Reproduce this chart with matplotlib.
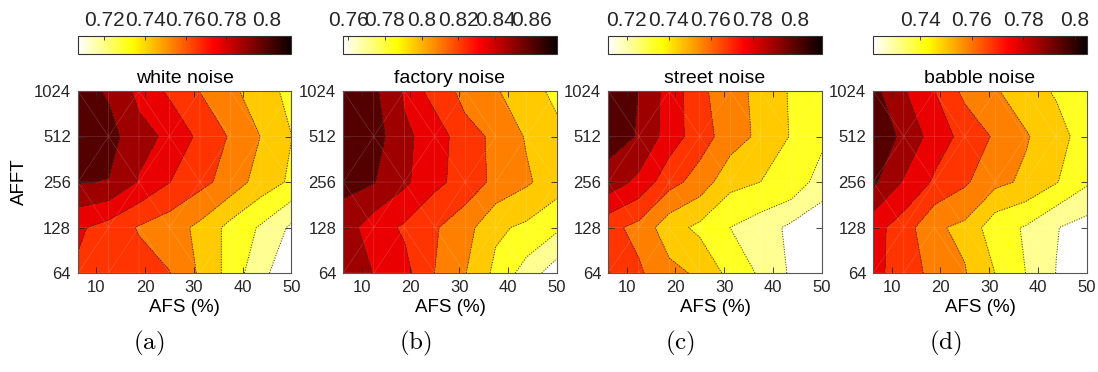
import numpy as np
import matplotlib
matplotlib.use("Agg")
import matplotlib.pyplot as plt
from matplotlib import cm, colors as mcolors
from matplotlib.tri import Triangulation

plt.rcParams['font.family'] = ['Liberation Sans', 'DejaVu Sans']
plt.rcParams['mathtext.fontset'] = 'cm'

# grid of the contour data
afs = [6.25, 12.5, 18.75, 25, 31.25, 37.5, 43.75, 50]
afft = [64, 128, 256, 512, 1024]

# accuracy per AFFT row (64 at the bottom up to 1024), columns follow afs
white = [
    [0.7753, 0.7723, 0.7700, 0.7657, 0.7520, 0.7377, 0.7217, 0.7109],
    [0.7788, 0.7725, 0.7643, 0.7589, 0.7510, 0.7382, 0.7289, 0.7166],
    [0.8009, 0.7999, 0.7877, 0.7772, 0.7688, 0.7606, 0.7484, 0.7401],
    [0.8073, 0.8050, 0.7924, 0.7865, 0.7742, 0.7642, 0.7534, 0.7422],
    [0.8062, 0.7986, 0.7855, 0.7748, 0.7651, 0.7560, 0.7482, 0.7379],
]
factory = [
    [0.8529, 0.8475, 0.8390, 0.8218, 0.8095, 0.7930, 0.7776, 0.7631],
    [0.8549, 0.8404, 0.8330, 0.8232, 0.8140, 0.7983, 0.7937, 0.7857],
    [0.8639, 0.8613, 0.8503, 0.8381, 0.8297, 0.8186, 0.8109, 0.8021],
    [0.8697, 0.8671, 0.8497, 0.8436, 0.8251, 0.8202, 0.8078, 0.8001],
    [0.8684, 0.8633, 0.8462, 0.8281, 0.8187, 0.8100, 0.8027, 0.7921],
]
street = [
    [0.7795, 0.7693, 0.7597, 0.7543, 0.7415, 0.7320, 0.7209, 0.7146],
    [0.7710, 0.7642, 0.7495, 0.7425, 0.7337, 0.7281, 0.7200, 0.7155],
    [0.7970, 0.7871, 0.7717, 0.7629, 0.7485, 0.7450, 0.7424, 0.7278],
    [0.8060, 0.8007, 0.7848, 0.7728, 0.7620, 0.7537, 0.7443, 0.7372],
    [0.8072, 0.8014, 0.7855, 0.7713, 0.7584, 0.7549, 0.7435, 0.7383],
]
babble = [
    [0.7797, 0.7725, 0.7651, 0.7592, 0.7493, 0.7402, 0.7309, 0.7247],
    [0.7803, 0.7724, 0.7600, 0.7566, 0.7436, 0.7395, 0.7315, 0.7274],
    [0.7970, 0.7852, 0.7756, 0.7692, 0.7611, 0.7569, 0.7500, 0.7416],
    [0.7999, 0.7938, 0.7818, 0.7741, 0.7665, 0.7595, 0.7530, 0.7452],
    [0.7981, 0.7869, 0.7772, 0.7653, 0.7595, 0.7535, 0.7484, 0.7439],
]

titles = ['white noise', 'factory noise', 'street noise', 'babble noise']
captions = ['(a)', '(b)', '(c)', '(d)']
clims = [(0.707, 0.812), (0.7573, 0.8736), (0.7112, 0.8128), (0.7219, 0.8045)]
cticks = [
    [0.72, 0.74, 0.76, 0.78, 0.80],
    [0.76, 0.78, 0.80, 0.82, 0.84, 0.86],
    [0.72, 0.74, 0.76, 0.78, 0.80],
    [0.74, 0.76, 0.78, 0.80],
]
panels = [white, factory, street, babble]

W, H = 1098, 372
lefts = [78, 343.3, 608.3, 873.3]
ax_w = 213.4
ax_top, ax_bot = 91, 273
cb_top, cb_bot = 36, 54
cap_x = [149, 415, 680, 945]

fig = plt.figure(figsize=(W / 100, H / 100), dpi=100)
cmap = plt.get_cmap('hot_r')
nb = 9
band_colors = [cmap(k / nb) for k in range(nb)]

X, Y = np.meshgrid(afs, np.log2(afft))
tri = Triangulation(X.ravel(), Y.ravel())

for i in range(4):
    Z = np.array(panels[i])
    lo, hi = clims[i]
    lev = np.linspace(lo, hi, nb + 1)

    ax = fig.add_axes([lefts[i] / W, 1 - ax_bot / H, ax_w / W, (ax_bot - ax_top) / H])
    ax.contourf(X, Y, Z, levels=lev, colors=band_colors)
    ax.triplot(tri, color='white', lw=0.4, alpha=0.22)
    ax.contour(X, Y, Z, levels=lev[1:-1], colors='#333333', linestyles=':', linewidths=0.7)

    ax.set_xlim(6.25, 50)
    ax.set_ylim(6, 10)
    ax.set_xticks([10, 20, 30, 40, 50])
    ax.set_yticks(np.log2(afft))
    ax.set_yticklabels([str(v) for v in afft])
    ax.tick_params(direction='in', top=True, right=True, length=4, width=0.6,
                   labelsize=12, colors='#262626', pad=5)
    for sp in ax.spines.values():
        sp.set_color('#555555')
        sp.set_linewidth(0.8)
    ax.set_title(titles[i], fontsize=14, pad=6)
    ax.set_xlabel('AFS (%)', fontsize=13.5, labelpad=3)
    if i == 0:
        ax.set_ylabel('AFFT', fontsize=13.5, labelpad=4)

    cax = fig.add_axes([lefts[i] / W, 1 - cb_bot / H, ax_w / W, (cb_bot - cb_top) / H])
    sm = cm.ScalarMappable(norm=mcolors.Normalize(lo, hi), cmap=cmap)
    cb = fig.colorbar(sm, cax=cax, orientation='horizontal', ticks=cticks[i])
    cax.xaxis.set_ticks_position('top')
    cax.set_xticklabels([f'{round(v, 2):g}' for v in cticks[i]])
    cax.tick_params(direction='in', length=3, width=0.6, labelsize=15,
                    colors='#262626', pad=4)
    cb.outline.set_edgecolor('#333333')
    cb.outline.set_linewidth(0.8)

    fig.text(cap_x[i] / W, 1 - 343 / H, r'$\mathrm{' + captions[i] + '}$',
             ha='center', va='center', fontsize=18)

fig.savefig('out.png', dpi=100)
